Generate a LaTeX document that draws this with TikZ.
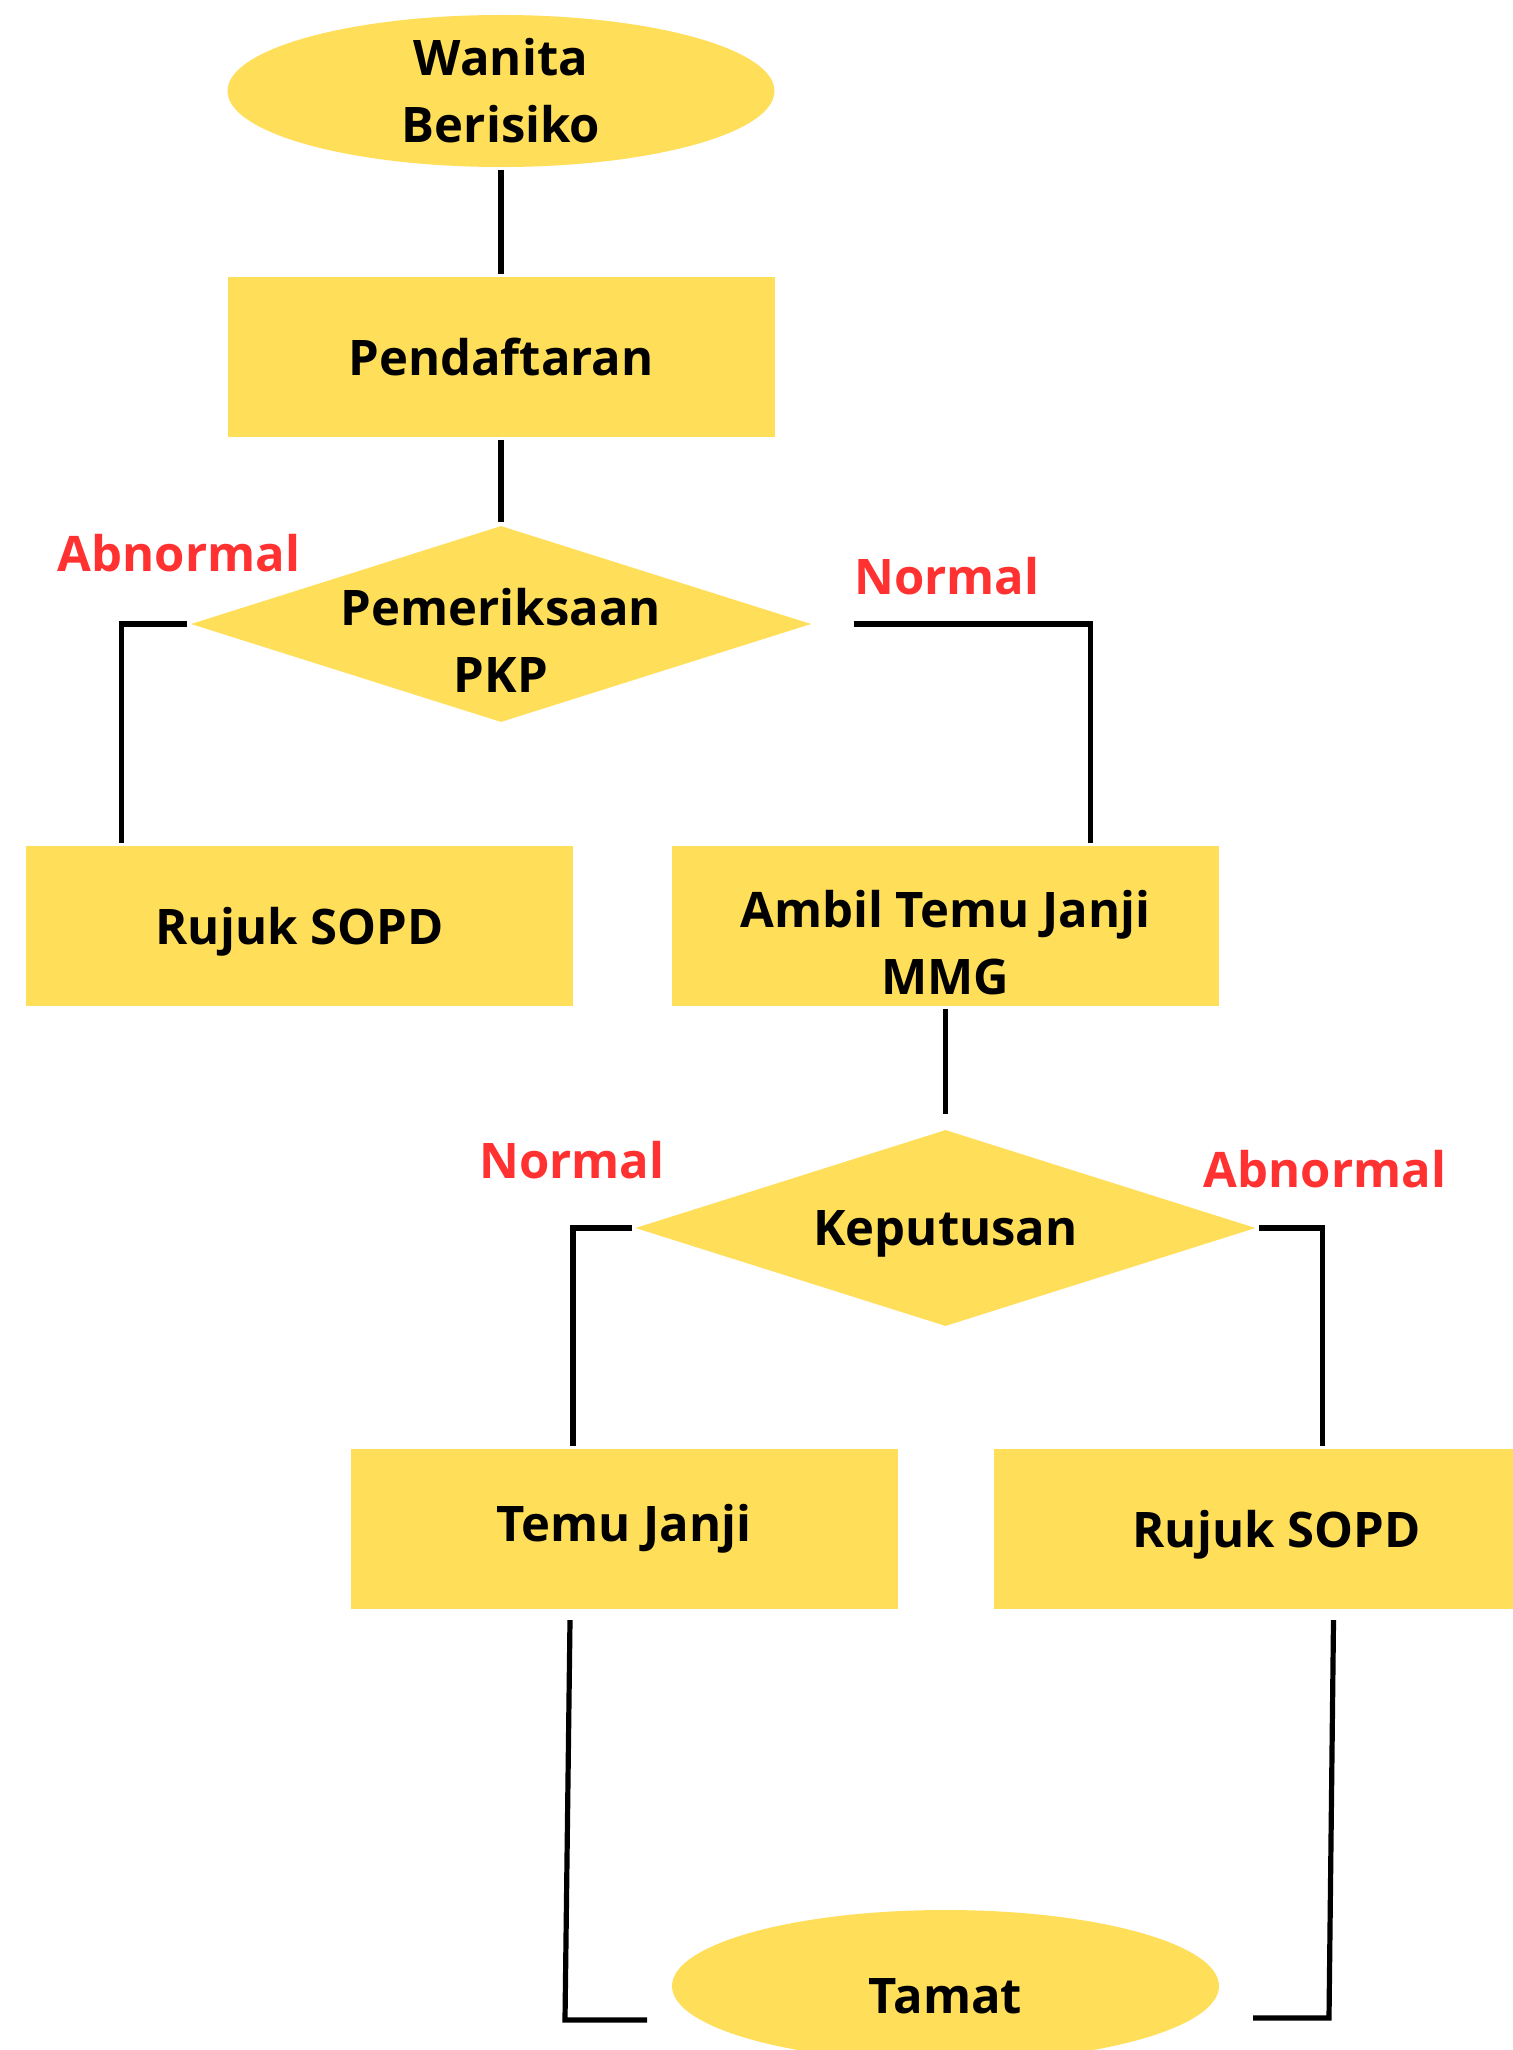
\documentclass[tikz,border=0pt]{standalone}
\usepackage{fontspec}
\setmainfont{Open Sans}
\usetikzlibrary{shapes.geometric}

\definecolor{kuning}{HTML}{FFDE59}
\definecolor{merah}{HTML}{FF3131}

\begin{document}
\begin{tikzpicture}[x=0.5pt, y=-0.5pt, line width=2.6pt,
font=\bfseries\fontsize{24.5}{33.5}\selectfont,
kotak/.style={rectangle, fill=kuning, minimum width=273.5pt, minimum height=80pt, align=center, inner sep=0pt},
bulat/.style={ellipse, fill=kuning, minimum width=273.5pt, minimum height=76pt, align=center, inner xsep=0pt, inner ysep=-2pt},
intan/.style={diamond, fill=kuning, inner sep=0pt, minimum width=311pt, minimum height=99pt},
ket/.style={text=merah}]

\path[use as bounding box] (0,0) rectangle (1513,2050);
\clip (0,0) rectangle (1513,2050);

%\draw[step=100, gray!30] (0,0) grid (1513,2050);

\node[bulat] (mula) at (501,91) {Wanita\\Berisiko};
\node[kotak] (daftar) at (501,357) {Pendaftaran};
\node[intan, label={[align=center, yshift=-8pt]center:Pemeriksaan\\PKP}] (pkp) at (501,624) {};

\node[kotak, text depth=0pt] (rujuk1) at (299.5,926) {Rujuk SOPD};
\node[kotak, label={[align=center, yshift=-8.5pt]center:Ambil Temu Janji\\MMG}] (mmg) at (945.5,926) {};

\node[intan, label={[yshift=-3pt]center:Keputusan}] (putus) at (945.5,1228) {};

\node[kotak] (temu) at (624,1528.5) {Temu Janji};
\node[kotak, text depth=0pt] (rujuk2) at (1267.5,1528.5) {\hspace{9pt}Rujuk SOPD};

\node[bulat, label={[yshift=-5pt]center:Tamat}] (tamat) at (945.5,1986) {};

% label keputusan
\node[ket] (ab1) at (179,553) {Abnormal};
\node[ket] (no1) at (947,576) {Normal};
\node[ket] (no2) at (572,1160) {Normal};
\node[ket] (ab2) at (1325,1169) {Abnormal};

\draw (mula) -- (daftar);
\draw (daftar) -- (pkp);
\draw (pkp.west) -| ([xshift=49pt]rujuk1.north west);
\draw[shorten <=19.5pt] (pkp.east) -| ([xshift=-65.5pt]mmg.north east);

\draw[shorten >=6pt] (mmg) -- (putus);
\draw (putus.west) -| ([xshift=112.5pt]temu.north west);
\draw (putus.east) -| ([xshift=165.5pt]rujuk2.north west);

\coordinate (c1) at (565,2020);
\coordinate (c2) at (647,2020);
\coordinate (d1) at (1329,2018);
\coordinate (d2) at (1253,2018);

\draw ([xshift=-27pt, yshift=-4.5pt]temu.south) -- (c1) -- (c2);
\draw ([xshift=33pt, yshift=-4.5pt]rujuk2.south) -- (d1) -- (d2);

\end{tikzpicture}
\end{document}
